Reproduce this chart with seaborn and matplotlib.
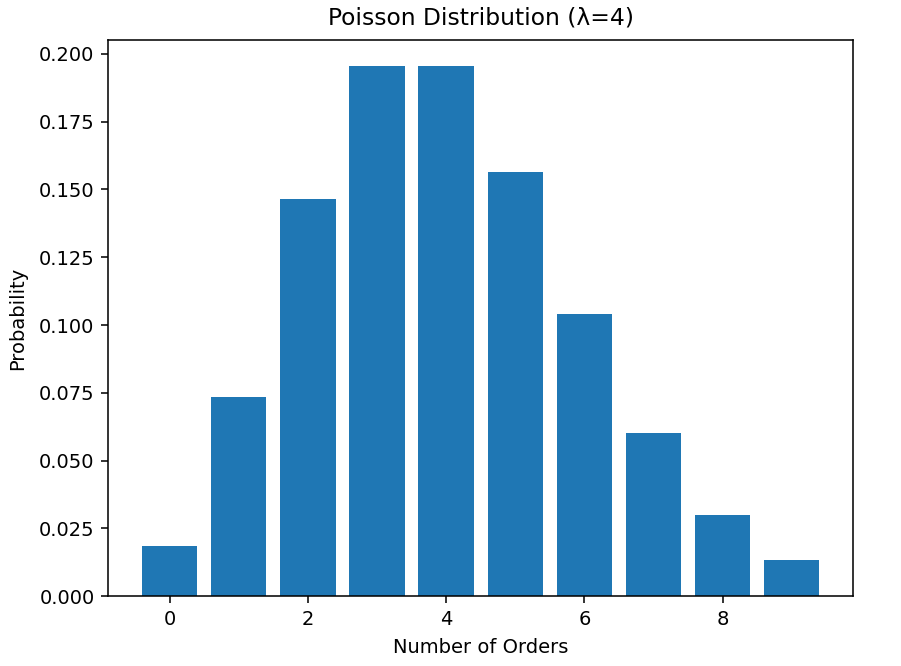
import numpy as np
import pandas as pd
import matplotlib
matplotlib.use("Agg")
import matplotlib.pyplot as plt
import seaborn as sns

# Data
orders = [0, 1, 2, 3, 4, 5, 6, 7, 8, 9]
probability = [0.0183, 0.0733, 0.1465, 0.1954, 0.1954, 0.1563, 0.1042, 0.0600, 0.0300, 0.0132]

df = pd.DataFrame({"orders": orders, "probability": probability})

fig = plt.figure(figsize=(901 / 140, 666 / 140), dpi=140)
ax = fig.add_axes([0.12, 0.105, 0.827, 0.835])

sns.barplot(data=df, x="orders", y="probability", native_scale=True,
            color="#1f77b4", saturation=1, width=0.8, linewidth=0, ax=ax)

ax.set_xticks([0, 2, 4, 6, 8])
ax.set_title("Poisson Distribution (λ=4)", pad=8)
ax.set_xlabel("Number of Orders", labelpad=5)
ax.set_ylabel("Probability", labelpad=6)

fig.savefig("out.png", dpi=140)
